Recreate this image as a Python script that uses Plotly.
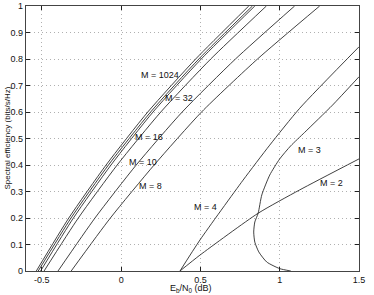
import plotly.graph_objects as go

# spectral efficiency levels
eta_levels = [0.0, 0.2, 0.4, 0.6, 0.8, 1.0]

# Eb/N0 (dB) at each level, one list per M
ebn0_m1024 = [-0.535, -0.330, -0.095, 0.168, 0.470, 0.805]
ebn0_m64 = [-0.523, -0.316, -0.080, 0.186, 0.490, 0.828]
ebn0_m32 = [-0.508, -0.301, -0.064, 0.201, 0.505, 0.843]
ebn0_m16 = [-0.486, -0.270, -0.025, 0.250, 0.565, 0.916]
ebn0_m10 = [-0.398, -0.165, 0.095, 0.385, 0.721, 1.094]
ebn0_m8 = [-0.315, -0.068, 0.208, 0.507, 0.860, 1.252]

# small M curves, read as (Eb/N0, efficiency) pairs
ebn0_m4 = [0.371, 0.497, 0.769, 0.937, 1.126, 1.5]
eta_m4 = [0.0, 0.117, 0.343, 0.475, 0.614, 0.846]

ebn0_m3 = [1.07, 1.0, 0.918, 0.868, 0.843, 0.836, 0.843, 0.864, 0.887, 0.937,
           1.0, 1.069, 1.157, 1.333, 1.5]
eta_m3 = [0.0, 0.009, 0.034, 0.072, 0.109, 0.147, 0.185, 0.218, 0.287, 0.362,
          0.423, 0.472, 0.523, 0.626, 0.733]

ebn0_m2 = [0.371, 0.497, 0.864, 1.126, 1.5]
eta_m2 = [0.0, 0.06, 0.218, 0.306, 0.423]

labels = ["M = 1024", "M = 32", "M = 16", "M = 10", "M = 8", "M = 4", "M = 3", "M = 2"]
label_x = [0.113, 0.264, 0.075, 0.038, 0.10, 0.445, 1.105, 1.24]
label_y = [0.74, 0.651, 0.506, 0.41, 0.32, 0.243, 0.457, 0.331]

FONT = "Liberation Sans, Arial, sans-serif"
LINE = {"color": "#2b2b2b", "width": 0.9, "shape": "spline", "smoothing": 0.6}

fig = go.Figure()

family = [
    ("M = 1024", ebn0_m1024),
    ("M = 64", ebn0_m64),
    ("M = 32", ebn0_m32),
    ("M = 16", ebn0_m16),
    ("M = 10", ebn0_m10),
    ("M = 8", ebn0_m8),
]
for name, xs in family:
    fig.add_trace(go.Scatter(x=xs, y=eta_levels, mode="lines", name=name, line=LINE, showlegend=False))

for name, xs, ys in [("M = 4", ebn0_m4, eta_m4), ("M = 3", ebn0_m3, eta_m3), ("M = 2", ebn0_m2, eta_m2)]:
    fig.add_trace(go.Scatter(x=xs, y=ys, mode="lines", name=name, line=LINE, showlegend=False))

for text, lx, ly in zip(labels, label_x, label_y):
    fig.add_annotation(
        x=lx, y=ly, text=text, showarrow=False, xanchor="left", yanchor="middle",
        font={"family": FONT, "size": 9, "color": "#111"},
    )

# axis titles as annotations so the margins stay put
fig.add_annotation(
    xref="paper", yref="paper", x=0.494, y=0, yshift=-17, yanchor="middle",
    text="E<sub>b</sub>/N<sub>0</sub> (dB)", showarrow=False,
    font={"family": FONT, "size": 9, "color": "#111"},
)
fig.add_annotation(
    xref="paper", yref="paper", x=0, y=0.5, xshift=-19, xanchor="center", textangle=-90,
    text="Spectral efficiency (bits/s/Hz)", showarrow=False,
    font={"family": FONT, "size": 8, "color": "#111"},
)

axis_common = {
    "showline": True,
    "linecolor": "#444",
    "linewidth": 1.2,
    "mirror": "allticks",
    "ticks": "inside",
    "ticklen": 4,
    "tickcolor": "#222",
    "showgrid": True,
    "gridcolor": "#b0b0b0",
    "griddash": "1px,3px",
    "gridwidth": 1,
    "zeroline": False,
    "automargin": False,
    "tickfont": {"family": FONT, "size": 9, "color": "#111"},
}

fig.update_layout(
    width=374,
    height=295,
    margin={"l": 26, "r": 15, "t": 6, "b": 24},
    plot_bgcolor="white",
    paper_bgcolor="white",
    xaxis={
        **axis_common,
        "range": [-0.6, 1.5],
        "tickvals": [-0.5, 0, 0.5, 1, 1.5],
        "ticktext": ["-0.5", "0", "0.5", "1", "1.5"],
    },
    yaxis={
        **axis_common,
        "range": [0, 1],
        "tickvals": [0, 0.1, 0.2, 0.3, 0.4, 0.5, 0.6, 0.7, 0.8, 0.9, 1],
        "ticktext": ["0", "0.1", "0.2", "0.3", "0.4", "0.5", "0.6", "0.7", "0.8", "0.9", "1"],
    },
)

# the page's default body margin would shift the figure off the window
fig.write_html(
    "out.html",
    config={"displayModeBar": False},
    post_script="document.body.style.margin='0';",
)
